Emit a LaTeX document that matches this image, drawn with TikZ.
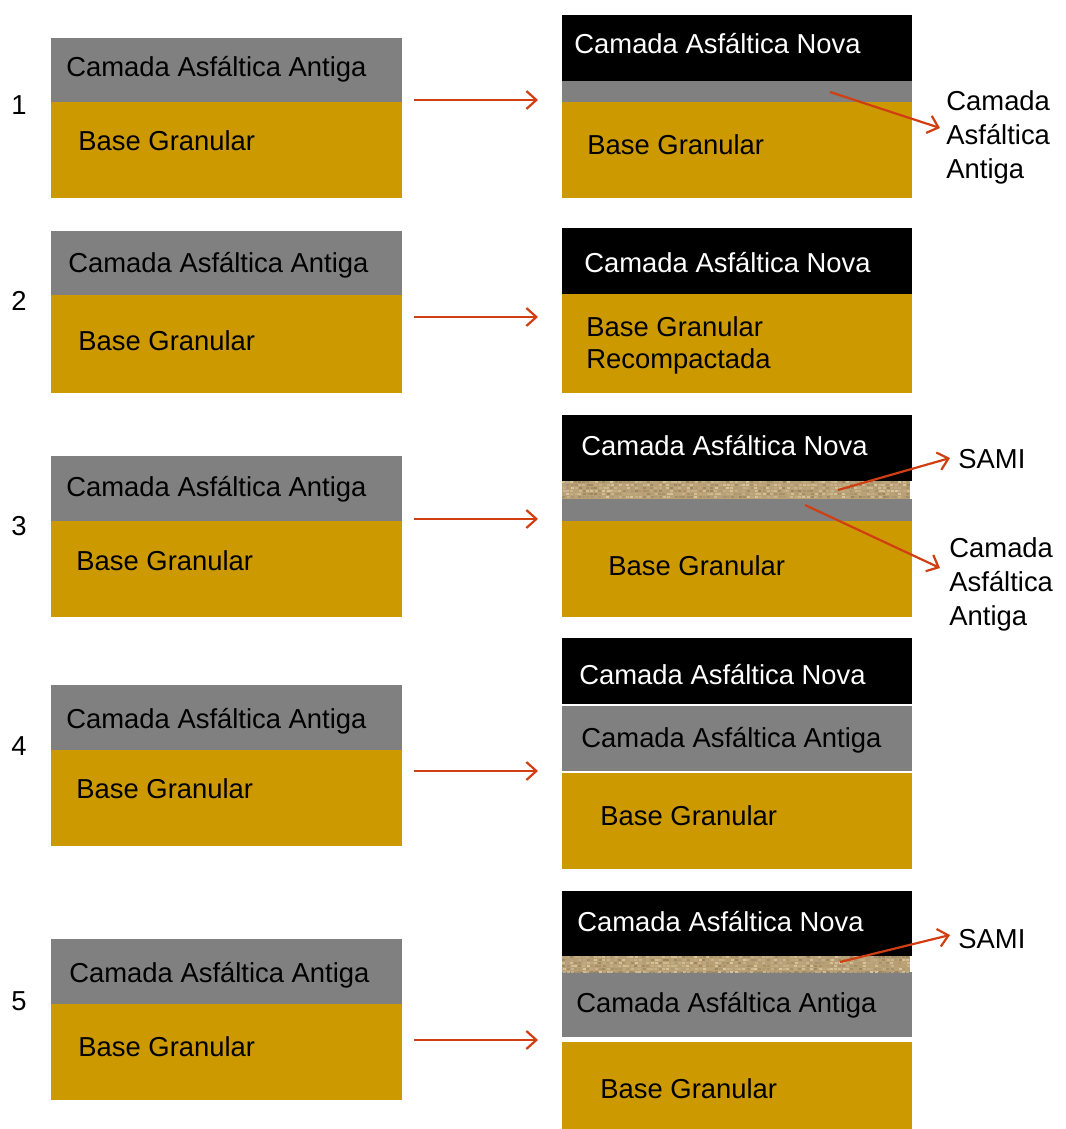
\documentclass[tikz,border=0pt]{standalone}
\usepackage{fontspec}
\setmainfont{Liberation Sans}
\usetikzlibrary{fit}

\definecolor{oldgray}{RGB}{128,128,128}
\definecolor{granular}{RGB}{204,153,0}
\definecolor{arrowred}{RGB}{208,62,18}
\definecolor{burlap}{RGB}{186,160,115}
\definecolor{burlaplight}{RGB}{236,220,180}
\definecolor{burlapdark}{RGB}{112,88,55}

\tikzset{
  layer/.style={inner sep=0pt, outer sep=0pt},
  oldlayer/.style={layer, fill=oldgray},
  baselayer/.style={layer, fill=granular},
  newlayer/.style={layer, fill=black},
  txt/.style={anchor=base west, inner sep=0pt, font=\fontsize{13.7}{16}\selectfont},
  wtxt/.style={txt, text=white},
  side/.style={txt, align=left, anchor=north west, font=\fontsize{13.7}{17}\selectfont},
  conn/.style={->, draw=arrowred, line width=1.1pt, >={Straight Barb[length=5pt,width=9pt]}}
}
\usetikzlibrary{arrows.meta}

\begin{document}
\begin{tikzpicture}[x=0.5pt, y=-0.5pt]
  \useasboundingbox (0,0) rectangle (1065,1129);
  \pgfmathsetseed{7}

  % Left column: existing pavement
  \foreach \n/\t/\m/\b in {1/38/102/198, 2/231/295/393, 3/456/521/617, 4/685/750/846, 5/939/1004/1100}{
    \node[oldlayer, fit={(51,\t) (402,\m)}] (old\n) {};
    \node[baselayer, fit={(51,\m) (402,\b)}] (base\n) {};
  }
  \node[txt] (t1a) at (66,77) {Camada Asfáltica Antiga};
  \node[txt] (t1b) at (78,150) {Base Granular};
  \node[txt] (t2a) at (68,272) {Camada Asfáltica Antiga};
  \node[txt] (t2b) at (78,350) {Base Granular};
  \node[txt] (t3a) at (66,496) {Camada Asfáltica Antiga};
  \node[txt] (t3b) at (76,570) {Base Granular};
  \node[txt] (t4a) at (66,728) {Camada Asfáltica Antiga};
  \node[txt] (t4b) at (76,798) {Base Granular};
  \node[txt] (t5a) at (69,982) {Camada Asfáltica Antiga};
  \node[txt] (t5b) at (78,1056) {Base Granular};

  % Step numbers
  \node[txt] (n1) at (11,115) {1};
  \node[txt] (n2) at (11,310) {2};
  \node[txt] (n3) at (11,535) {3};
  \node[txt] (n4) at (11,755) {4};
  \node[txt] (n5) at (11,1010) {5};

  % Right column: solutions
  % 1
  \node[newlayer, fit={(562,15) (912,81)}] (new1) {};
  \node[oldlayer, fit={(562,81) (912,102)}] (rold1) {};
  \node[baselayer, fit={(562,102) (912,198)}] (rbase1) {};
  \node[wtxt] (r1a) at (574,54) {Camada Asfáltica Nova};
  \node[txt] (r1b) at (587,155) {Base Granular};
  % 2
  \node[newlayer, fit={(562,228) (912,294)}] (new2) {};
  \node[baselayer, fit={(562,294) (912,393)}] (rbase2) {};
  \node[wtxt] (r2a) at (584,272) {Camada Asfáltica Nova};
  \node[txt, anchor=north west, align=left, font=\fontsize{13.7}{16}\selectfont] (r2b) at (586,316) {Base Granular\\Recompactada};
  % 3
  \node[newlayer, fit={(562,415) (912,481)}] (new3) {};
  \node[oldlayer, fit={(562,499) (912,521)}] (rold3) {};
  \node[baselayer, fit={(562,521) (912,617)}] (rbase3) {};
  \node[wtxt] (r3a) at (581,455) {Camada Asfáltica Nova};
  \node[txt] (r3b) at (608,575) {Base Granular};
  % 4
  \node[newlayer, fit={(562,638) (912,704)}] (new4) {};
  \node[oldlayer, fit={(562,706) (912,771)}] (rold4) {};
  \node[baselayer, fit={(562,773) (912,869)}] (rbase4) {};
  \node[wtxt] (r4a) at (579,684) {Camada Asfáltica Nova};
  \node[txt] (r4b) at (581,747) {Camada Asfáltica Antiga};
  \node[txt] (r4c) at (600,825) {Base Granular};
  % 5
  \node[newlayer, fit={(562,891) (912,956)}] (new5) {};
  \node[oldlayer, fit={(562,972) (912,1037)}] (rold5) {};
  \node[baselayer, fit={(562,1042) (912,1129)}] (rbase5) {};
  \node[wtxt] (r5a) at (577,931) {Camada Asfáltica Nova};
  \node[txt] (r5b) at (576,1012) {Camada Asfáltica Antiga};
  \node[txt] (r5c) at (600,1098) {Base Granular};

  % SAMI interlayers (woven texture)
  \foreach \n/\t/\b in {3/481/499, 5/956/972}{
    \begin{scope}
      \clip (562,\t) rectangle (910,\b);
      \fill[burlap] (562,\t) rectangle (910,\b);
      \foreach \x in {562,566,...,906}
        \foreach \y in {0,3,...,15}{
          \pgfmathsetmacro{\mix}{int(35+50*rnd)}
          \fill[burlaplight!\mix!burlapdark] (\x+rnd,\t+\y) rectangle ++(3,2);
        }
    \end{scope}
    \node[layer, fit={(562,\t) (910,\b)}] (sami\n) {};
  }

  % Side labels
  \node[side] (lab1) at (946,90) {Camada\\Asfáltica\\Antiga};
  \node[txt] (lab3s) at (958,468) {SAMI};
  \node[side] (lab3) at (949,537) {Camada\\Asfáltica\\Antiga};
  \node[txt] (lab5s) at (958,948) {SAMI};

  % Transformation arrows
  \foreach \n/\y in {1/100, 2/317, 3/519, 4/771, 5/1040}{
    \coordinate (from\n) at (414,\y);
    \coordinate (to\n) at (538,\y);
    \draw[conn] (from\n) -- (to\n);
  }

  % Pointer arrows
  \coordinate (p1) at (830,92);
  \draw[conn] (p1) -- (940,128);
  \coordinate (p3s) at (838,490);
  \draw[conn] (p3s) -- (950,458);
  \coordinate (p3o) at (805,505);
  \draw[conn] (p3o) -- (940,568);
  \coordinate (p5s) at (840,962);
  \draw[conn] (p5s) -- (950,935);
\end{tikzpicture}
\end{document}
